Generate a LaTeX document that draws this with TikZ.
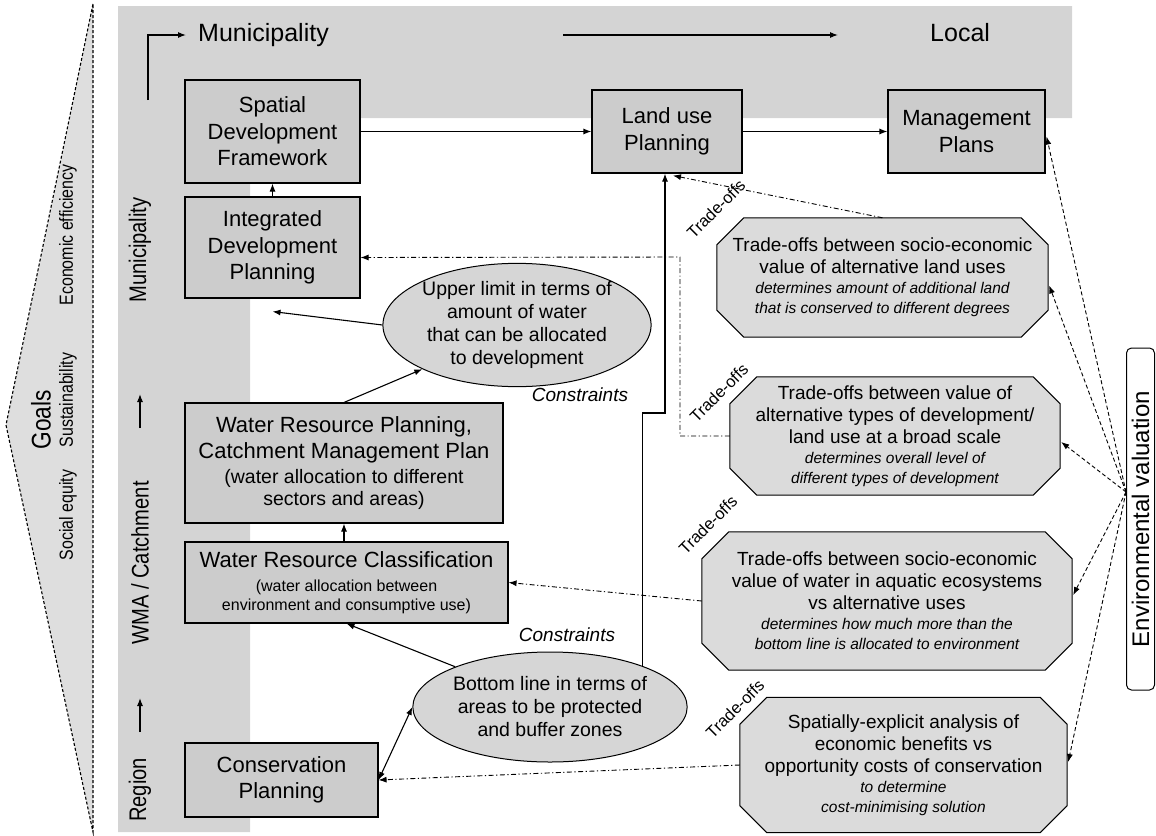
\documentclass[tikz,border=0pt]{standalone}
\usepackage{fontspec}
\setmainfont{Liberation Sans}
\newfontfamily\narrowsans[FakeStretch=0.84]{Liberation Sans}
\usetikzlibrary{arrows.meta,shapes.geometric,calc}
\definecolor{bandgray}{gray}{0.83}
\definecolor{boxgray}{gray}{0.80}
\definecolor{ovalgray}{gray}{0.84}
\definecolor{octgray}{gray}{0.86}
\definecolor{goalgray}{gray}{0.87}
\newcommand\fs[2]{\fontsize{#1}{#2}\selectfont}
\pgfdeclarelayer{background}
\pgfsetlayers{background,main}

\begin{document}
\begin{tikzpicture}[x=1pt,y=-1pt,
  box/.style={draw=black,line width=1.1pt,fill=boxgray,align=center,inner sep=0pt,font=\fs{22}{26.5}},
  oval/.style={ellipse,draw=black,line width=1pt,fill=ovalgray,align=center,inner sep=0pt,font=\fs{19.5}{23}},
  octo/.style={rectangle,align=center,inner sep=0pt,font=\fs{19}{22}},
  octline/.style={draw=black,line width=1pt,fill=octgray},
  tradeoff/.style={rotate=45,font=\fs{16.5}{18},inner sep=0pt},
  constr/.style={font=\itshape\fs{19}{22},inner sep=0pt},
  level/.style={rotate=90,font=\narrowsans\fs{24}{26},inner sep=0pt},
  goal/.style={rotate=90,font=\narrowsans\fs{19}{21},inner sep=0pt},
  arr/.style={line width=1.1pt,-{Latex[length=8pt,width=6pt]}},
  dblarr/.style={line width=1.1pt,{Latex[length=8pt,width=6pt]}-{Latex[length=8pt,width=6pt]}},
  dd/.style={line width=0.9pt,dash pattern=on 5pt off 2.5pt on 1.2pt off 2.5pt,-{Latex[length=8pt,width=6pt]}},
  evarr/.style={line width=0.9pt,dash pattern=on 4pt off 2.5pt,-{Latex[length=8pt,width=6pt]}},
]
\useasboundingbox (0,0) rectangle (1156,835);

% goals chevron
\draw[fill=goalgray,line width=1.1pt,dash pattern=on 3pt off 2pt] (93,4) -- (6,425) -- (93,832) -- cycle;
\node[rotate=90,font=\narrowsans\fs{27}{30},inner sep=0pt] (goals) at (41,420) {Goals};
\node[goal] (g1) at (68,235) {Economic efficiency};
\node[goal] (g2) at (68,400) {Sustainability};
\node[goal] (g3) at (68,515) {Social equity};

% planning scale background
\fill[bandgray] (118,6) -- (1072,6) -- (1072,118) -- (250,118) -- (250,832) -- (118,832) -- cycle;

% scale labels
\node[level] (reg) at (140,790) {Region};
\node[level] (wma) at (140,563) {WMA / Catchment};
\node[level] (munv) at (140,250) {Municipality};
\coordinate (ra) at (140,732); \coordinate (rb) at (140,698);
\coordinate (wa) at (140,428); \coordinate (wb) at (140,394);
\draw[arr] (ra) -- (rb);
\draw[arr] (wa) -- (wb);
\node[font=\fs{25}{28},anchor=west,inner sep=0pt] (mun) at (198,35) {Municipality};
\node[font=\fs{25}{28},anchor=west,inner sep=0pt] (loc) at (930,33) {Local};
\coordinate (bendA) at (148,100);
\draw[arr] (bendA) |- ($(mun.west)+(-12,0)$);
\coordinate (ta) at (563,35); \coordinate (tb) at (838,35);
\draw[arr] (ta) -- (tb);

% planning instruments
\node[box,minimum width=175,minimum height=103] (sdf) at (272.5,131.5) {Spatial\\Development\\Framework};
\node[box,minimum width=175,minimum height=101] (idp) at (272.5,247.5) {Integrated\\Development\\Planning};
\node[box,minimum width=318,minimum height=120] (wrp) at (344,463) {Water Resource Planning,\\Catchment Management Plan\\[-2pt]{\fs{19.5}{23}(water allocation to different}\\[-4pt]{\fs{19.5}{23}sectors and areas)}};
\node[box,minimum width=323,minimum height=81] (wrc) at (346.5,582.5) {Water Resource Classification\\[-2pt]{\fs{16}{19}(water allocation between}\\[-7.5pt]{\fs{16}{19}environment and consumptive use)}};
\node[box,minimum width=193,minimum height=74] (cp) at (281.5,780) {Conservation\\Planning};
\node[box,minimum width=150,minimum height=83] (lu) at (667,131.5) {Land use\\Planning};
\node[box,minimum width=157,minimum height=83] (mp) at (966.5,131.5) {Management\\Plans};

% limits
\node[oval,minimum width=262,minimum height=120] (ul) at (517,325) {Upper limit in terms of\\amount of water\\that can be allocated\\to development};
\node[oval,minimum width=250,minimum height=110] (bl) at (550,707) {Bottom line in terms of\\areas to be protected\\and buffer zones};
\node[constr] (c1) at (580,395) {Constraints};
\node[constr] (c2) at (567,635) {Constraints};

% trade-off analyses
\node[octo,minimum width=331,minimum height=119] (o1) at (882.5,277.5) {Trade-offs between socio-economic\\value of alternative land uses\\[-2pt]{\itshape\fs{15.5}{20}determines amount of additional land}\\[-2pt]{\itshape\fs{15.5}{20}that is conserved to different degrees}};
\node[octo,minimum width=330,minimum height=118] (o2) at (895,436) {Trade-offs between value of\\alternative types of development/\\land use at a broad scale\\[-2pt]{\itshape\fs{15.5}{20}determines overall level of}\\[-2pt]{\itshape\fs{15.5}{20}different types of development}};
\node[octo,minimum width=370,minimum height=138] (o3) at (887,601) {Trade-offs between socio-economic\\value of water in aquatic ecosystems\\vs alternative uses\\[-2pt]{\itshape\fs{15.5}{20}determines how much more than the}\\[-2pt]{\itshape\fs{15.5}{20}bottom line is allocated to environment}};
\node[octo,minimum width=327,minimum height=135] (o4) at (903.5,765) {Spatially-explicit analysis of\\economic benefits vs\\opportunity costs of conservation\\[-2pt]{\itshape\fs{15.5}{20}to determine}\\[-2pt]{\itshape\fs{15.5}{20}cost-minimising solution}};
\begin{pgfonlayer}{background}
\foreach \n in {o1,o2,o3,o4}{
  \draw[octline] ($(\n.north west)+(27,0)$) -- ($(\n.north east)+(-27,0)$) -- ($(\n.north east)+(0,27)$) -- ($(\n.south east)+(0,-27)$) -- ($(\n.south east)+(-27,0)$) -- ($(\n.south west)+(27,0)$) -- ($(\n.south west)+(0,-27)$) -- ($(\n.north west)+(0,27)$) -- cycle;
}
\end{pgfonlayer}
\node[tradeoff] (t1) at (716,209) {Trade-offs};
\node[tradeoff] (t2) at (719,393) {Trade-offs};
\node[tradeoff] (t3) at (708,525) {Trade-offs};
\node[tradeoff] (t4) at (735,709) {Trade-offs};

\node[draw=black,line width=1pt,rounded corners=5pt,rotate=90,minimum width=342,minimum height=28,inner sep=0pt,font=\fs{24}{26}] (ev) at (1140.5,519) {Environmental valuation};
\coordinate (evp) at (1126,492);

% solid flows
\draw[arr] (sdf.east) -- (lu.west);
\draw[arr] (lu.east) -- (mp.west);
\draw[arr] (idp.north) -- (sdf.south);
\draw[arr] (wrc.north) -- (wrp.north |- wrc.north) -- (wrp.south);
\draw[arr] (ul.west) -- ($(idp.south)+(0,13)$);
\draw[arr] (wrp.north) -- (ul.205);
\draw[arr] (bl.157) -- (wrc.south);
\draw[dblarr] (cp.east) -- (bl.west);
\coordinate (bend) at (665,413);
\draw[arr] (bl.24) |- (bend) -- (bend |- lu.south);

% trade-off flows
\draw[dd] (o1.north) -- ($(lu.south)+(6,2)$);
\coordinate (k2) at (680,257);
\draw[dd] (o2.west) -| (k2) -- ($(idp.east)+(0,10)$);
\draw[dd] (o3.west) -- (wrc.east);
\draw[dd] (o4.west) -- (cp.east);

% valuation flows
\draw[evarr] (evp) -- ($(mp.east)+(1,5)$);
\draw[evarr] (evp) -- ($(o1.east)+(1,8)$);
\draw[evarr] (evp) -- ($(o2.east)+(1,6)$);
\draw[evarr] (evp) -- ($(o3.east)+(1,-6)$);
\draw[evarr] (evp) -- ($(o4.east)+(1,-3)$);
\end{tikzpicture}
\end{document}
